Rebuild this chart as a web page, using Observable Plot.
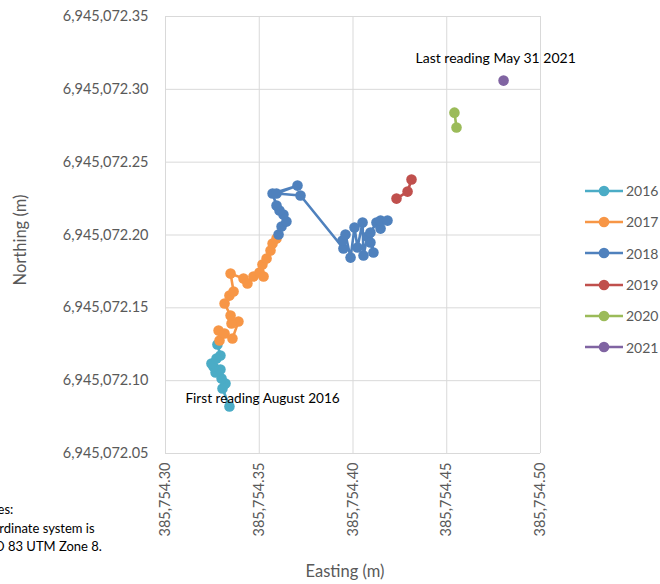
<!DOCTYPE html>
<html>
<head>
<meta charset="utf-8">
<script src="https://cdn.jsdelivr.net/npm/d3@7"></script>
<script src="https://cdn.jsdelivr.net/npm/@observablehq/plot@0.6"></script>
<style>
  html, body { margin: 0; padding: 0; background: #fff; }
  #wrap { position: relative; width: 660px; height: 584px; overflow: hidden; font-family: Lato, "Open Sans", sans-serif; }
  #chart { position: absolute; left: 0; top: 0; }
  .title { position: absolute; color: #595959; font-size: 16.5px; white-space: nowrap; line-height: 1; }
  #ytitle { left: 20px; top: 240px; transform: translate(-50%, -50%) rotate(-90deg); }
  #xtitle { left: 345px; top: 571px; transform: translate(-50%, -50%); }
  #legend { position: absolute; left: 585px; top: 175px; }
  .li { display: flex; align-items: center; height: 31.3px; font-size: 14px; color: #595959; }
  .li svg { margin-right: 3px; }
  #notes { position: absolute; left: -24px; top: 500px; font-size: 13px; color: #000; line-height: 18.5px; white-space: nowrap; }
</style>
</head>
<body>
<div id="wrap">
  <div id="chart"></div>
  <div id="ytitle" class="title">Northing (m)</div>
  <div id="xtitle" class="title">Easting (m)</div>
  <div id="legend"></div>
  <div id="notes">Notes:<br>Coordinate system is<br>NAD 83 UTM Zone 8.</div>
</div>
<script>
// ---- data ----
const years = ["2016", "2017", "2018", "2019", "2020", "2021"];
const colors = ["#4BACC6", "#F79646", "#4F81BD", "#C0504D", "#9BBB59", "#8064A2"];

const east2016 = [385754.3341, 385754.3304, 385754.3320, 385754.3299, 385754.3267, 385754.3293, 385754.3256, 385754.3245, 385754.3272, 385754.3293, 385754.3277];
const north2016 = [6945072.0823, 6945072.0946, 6945072.0980, 6945072.1015, 6945072.1056, 6945072.1077, 6945072.1097, 6945072.1118, 6945072.1152, 6945072.1173, 6945072.1248];

const east2017 = [385754.3288, 385754.3283, 385754.3315, 385754.3357, 385754.3389, 385754.3352, 385754.3347, 385754.3315, 385754.3341, 385754.3363, 385754.3347, 385754.3416, 385754.3437, 385754.3469, 385754.3501, 385754.3523, 385754.3517, 385754.3539, 385754.3560, 385754.3571, 385754.3592];
const north2017 = [6945072.1276, 6945072.1344, 6945072.1324, 6945072.1289, 6945072.1406, 6945072.1392, 6945072.1447, 6945072.1530, 6945072.1584, 6945072.1612, 6945072.1735, 6945072.1701, 6945072.1667, 6945072.1715, 6945072.1742, 6945072.1715, 6945072.1797, 6945072.1838, 6945072.1893, 6945072.1941, 6945072.1976];

const east2018 = [385754.3603, 385754.3619, 385754.3645, 385754.3629, 385754.3608, 385754.3592, 385754.3571, 385754.3704, 385754.3592, 385754.3720, 385754.3949, 385754.3944, 385754.3960, 385754.3987, 385754.4008, 385754.4024, 385754.4051, 385754.4056, 385754.4077, 385754.4093, 385754.4109, 385754.4093, 385754.4125, 385754.4147, 385754.4147, 385754.4184];
const north2018 = [6945072.2003, 6945072.2058, 6945072.2092, 6945072.2140, 6945072.2168, 6945072.2202, 6945072.2285, 6945072.2339, 6945072.2285, 6945072.2271, 6945072.1907, 6945072.1962, 6945072.2003, 6945072.1845, 6945072.2051, 6945072.1914, 6945072.2085, 6945072.1859, 6945072.1989, 6945072.1948, 6945072.1880, 6945072.2017, 6945072.2085, 6945072.2044, 6945072.2099, 6945072.2099];

const east2019 = [385754.4232, 385754.4291, 385754.4312];
const north2019 = [6945072.2250, 6945072.2298, 6945072.2381];

const east2020 = [385754.4541, 385754.4552];
const north2020 = [6945072.2840, 6945072.2738];

const east2021 = [385754.4803];
const north2021 = [6945072.3060];

const xTicks = [385754.30, 385754.35, 385754.40, 385754.45, 385754.50];
const yTicks = [6945072.05, 6945072.10, 6945072.15, 6945072.20, 6945072.25, 6945072.30, 6945072.35];

const firstLabel = "First reading August 2016";
const lastLabel = "Last reading May 31 2021";

// ---- build table ----
const eastBy = [east2016, east2017, east2018, east2019, east2020, east2021];
const northBy = [north2016, north2017, north2018, north2019, north2020, north2021];
const series = years.map((y, i) => eastBy[i].map((e, j) => ({year: y, east: e, north: northBy[i][j]})));
const fmt = d3.format(",.2f");

const marks = [
  Plot.gridX(xTicks, {stroke: "#d9d9d9", strokeOpacity: 1}),
  Plot.gridY(yTicks, {stroke: "#d9d9d9", strokeOpacity: 1}),
  Plot.axisX(xTicks, {tickFormat: fmt, tickRotate: -90, tickSize: 0, tickPadding: 9, label: null, fontSize: 14.5, fill: "#595959"}),
  Plot.axisY(yTicks, {tickFormat: fmt, tickSize: 0, tickPadding: 17, label: null, fontSize: 14.5, fill: "#595959"}),
];
series.forEach((s, i) => {
  marks.push(Plot.line(s, {x: "east", y: "north", stroke: colors[i], strokeWidth: 2.6}));
  marks.push(Plot.dot(s, {x: "east", y: "north", fill: colors[i], r: 5.3}));
});
marks.push(Plot.text([series[0][0]], {x: "east", y: "north", text: () => firstLabel, textAnchor: "start", dx: -44, dy: -8, fontSize: 13.6, fill: "#000"}));
const lastS = series[5];
marks.push(Plot.text([lastS[lastS.length - 1]], {x: "east", y: "north", text: () => lastLabel, textAnchor: "start", dx: -88, dy: -22, fontSize: 14, fill: "#000"}));

const chart = Plot.plot({
  width: 660,
  height: 584,
  marginLeft: 165,
  marginRight: 120,
  marginTop: 16,
  marginBottom: 131,
  style: {fontFamily: "Lato, 'Open Sans', sans-serif", background: "transparent", color: "#595959"},
  x: {domain: [385754.30, 385754.50]},
  y: {domain: [6945072.05, 6945072.35]},
  marks
});
document.getElementById("chart").appendChild(chart);

// ---- legend ----
const leg = document.getElementById("legend");
years.forEach((y, i) => {
  const d = document.createElement("div");
  d.className = "li";
  d.innerHTML = `<svg width="38" height="12"><line x1="0" x2="38" y1="6" y2="6" stroke="${colors[i]}" stroke-width="2.6"/><circle cx="19" cy="6" r="5.3" fill="${colors[i]}"/></svg><span>${y}</span>`;
  leg.appendChild(d);
});
</script>
</body>
</html>
